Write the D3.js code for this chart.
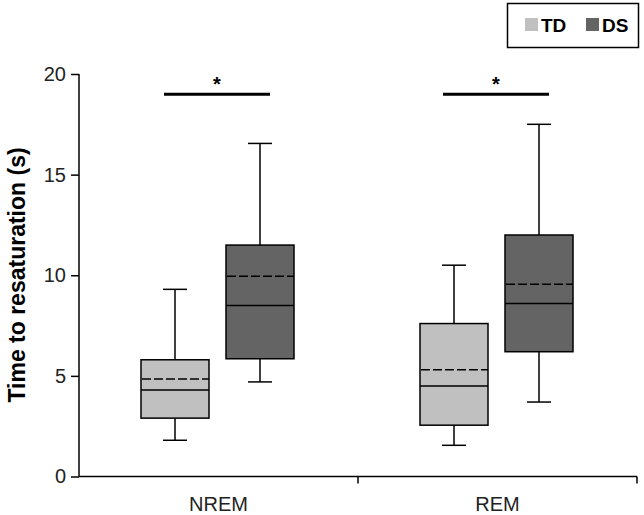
<!DOCTYPE html>
<html><head><meta charset="utf-8">
<script src="https://cdn.jsdelivr.net/npm/d3@7"></script>
<style>html,body{margin:0;padding:0;background:#fff;}svg{display:block;}</style>
</head><body>
<script>
const categories = ["NREM", "REM"];
const groups = ["TD", "DS"];
// [min, q1, median, q3, max, mean]
const tdValues = [
  [1.8, 2.9, 4.3, 5.8, 9.3, 4.85],
  [1.55, 2.55, 4.5, 7.6, 10.5, 5.3]
];
const dsValues = [
  [4.7, 5.85, 8.5, 11.5, 16.55, 9.95],
  [3.7, 6.2, 8.6, 12.0, 17.5, 9.55]
];
const yTicks = [0, 5, 10, 15, 20];
const sigLevel = [19.0, 19.0];
const sigLabels = ["*", "*"];

const W = 644, H = 515;
const colors = {TD: "#c0c0c0", DS: "#646464"};
const narrow = "'Liberation Sans Narrow','Arial Narrow','Liberation Sans',Arial,sans-serif";

const svg = d3.select("body").append("svg").attr("width", W).attr("height", H);

const x = d3.scaleBand().domain(categories).range([79, 637]);
const xi = d3.scaleBand().domain(groups).range([62, 215]).paddingInner(0.2);
const y = d3.scaleLinear().domain([0, 20]).range([476.5, 74]);

// axes
const yAxis = svg.append("g").attr("transform", "translate(79,0)")
  .call(d3.axisLeft(y).tickValues(yTicks).tickSize(8).tickPadding(5));
yAxis.select(".domain").attr("d", `M0,${y(20)}V${y(0)}`);
const xAxis = svg.append("g").attr("transform", `translate(0,${y(0)})`)
  .call(d3.axisBottom(x).tickSize(0).tickPadding(20));
xAxis.select(".domain").attr("d", `M79,0H637`);
// boundary ticks between categories
const bounds = [x.range()[0] + x.step(), x.range()[1]];
xAxis.selectAll(".btick").data(bounds).enter().append("line")
  .attr("x1", d => d).attr("x2", d => d).attr("y1", 0).attr("y2", 7)
  .attr("stroke", "#000").attr("stroke-width", 1.5);

[yAxis, xAxis].forEach(a => {
  a.selectAll(".domain").attr("stroke", "#000").attr("stroke-width", 1.5);
  a.selectAll(".tick line").attr("stroke", "#000").attr("stroke-width", 1.5);
  a.selectAll("text").attr("font-family", narrow).attr("font-size", 20).attr("fill", "#222");
});

// y title
svg.append("text")
  .attr("transform", "translate(25,275) rotate(-90)")
  .attr("text-anchor", "middle")
  .attr("font-family", "'Liberation Sans',Arial,sans-serif")
  .attr("font-weight", "bold").attr("font-size", 23)
  .attr("fill", "#000")
  .text("Time to resaturation (s)");

// boxes
const boxW = xi.bandwidth();
const capW = 24;
categories.forEach((cat, ci) => {
  groups.forEach(g => {
    const v = (g === "TD" ? tdValues : dsValues)[ci];
    const [mn, q1, md, q3, mx, mean] = v;
    const cx = x(cat) + xi(g) + boxW / 2;
    const gg = svg.append("g");
    // whiskers
    gg.append("line").attr("x1", cx).attr("x2", cx).attr("y1", y(mx)).attr("y2", y(q3))
      .attr("stroke", "#000").attr("stroke-width", 1.5);
    gg.append("line").attr("x1", cx).attr("x2", cx).attr("y1", y(q1)).attr("y2", y(mn))
      .attr("stroke", "#000").attr("stroke-width", 1.5);
    [mn, mx].forEach(val => gg.append("line")
      .attr("x1", cx - capW / 2).attr("x2", cx + capW / 2).attr("y1", y(val)).attr("y2", y(val))
      .attr("stroke", "#000").attr("stroke-width", 1.5));
    gg.append("rect").attr("x", cx - boxW / 2).attr("y", y(q3))
      .attr("width", boxW).attr("height", y(q1) - y(q3))
      .attr("fill", colors[g]).attr("stroke", "#000").attr("stroke-width", 1.5);
    gg.append("line").attr("x1", cx - boxW / 2).attr("x2", cx + boxW / 2).attr("y1", y(md)).attr("y2", y(md))
      .attr("stroke", "#000").attr("stroke-width", 1.5);
    gg.append("line").attr("x1", cx - boxW / 2 + 1).attr("x2", cx + boxW / 2).attr("y1", y(mean)).attr("y2", y(mean))
      .attr("stroke", "#000").attr("stroke-width", 1.5).attr("stroke-dasharray", "9,3");
  });
  // significance
  const x1 = x(cat) + xi("TD") + boxW / 2 - 11;
  const x2 = x(cat) + xi("DS") + boxW / 2 + 10;
  svg.append("line").attr("x1", x1).attr("x2", x2).attr("y1", y(sigLevel[ci])).attr("y2", y(sigLevel[ci]))
    .attr("stroke", "#000").attr("stroke-width", 3);
  svg.append("text").attr("x", (x1 + x2) / 2).attr("y", y(sigLevel[ci]) - 3)
    .attr("text-anchor", "middle").attr("font-family", "'Liberation Sans',Arial,sans-serif")
    .attr("font-weight", "bold").attr("font-size", 20).text(sigLabels[ci]);
});

// legend
const lg = svg.append("g");
lg.append("rect").attr("x", 507.5).attr("y", 3.5).attr("width", 131).attr("height", 44)
  .attr("fill", "#fff").attr("stroke", "#000").attr("stroke-width", 1.5);
const legX = {TD: 525, DS: 586};
groups.forEach(g => {
  lg.append("rect").attr("x", legX[g]).attr("y", 18).attr("width", 13).attr("height", 13)
    .attr("fill", colors[g]);
  lg.append("text").attr("x", legX[g] + 16).attr("y", 32)
    .attr("font-family", "'Liberation Sans',Arial,sans-serif").attr("font-weight", "bold")
    .attr("font-size", 19).attr("fill", "#000").text(g);
});
</script>
</body></html>
